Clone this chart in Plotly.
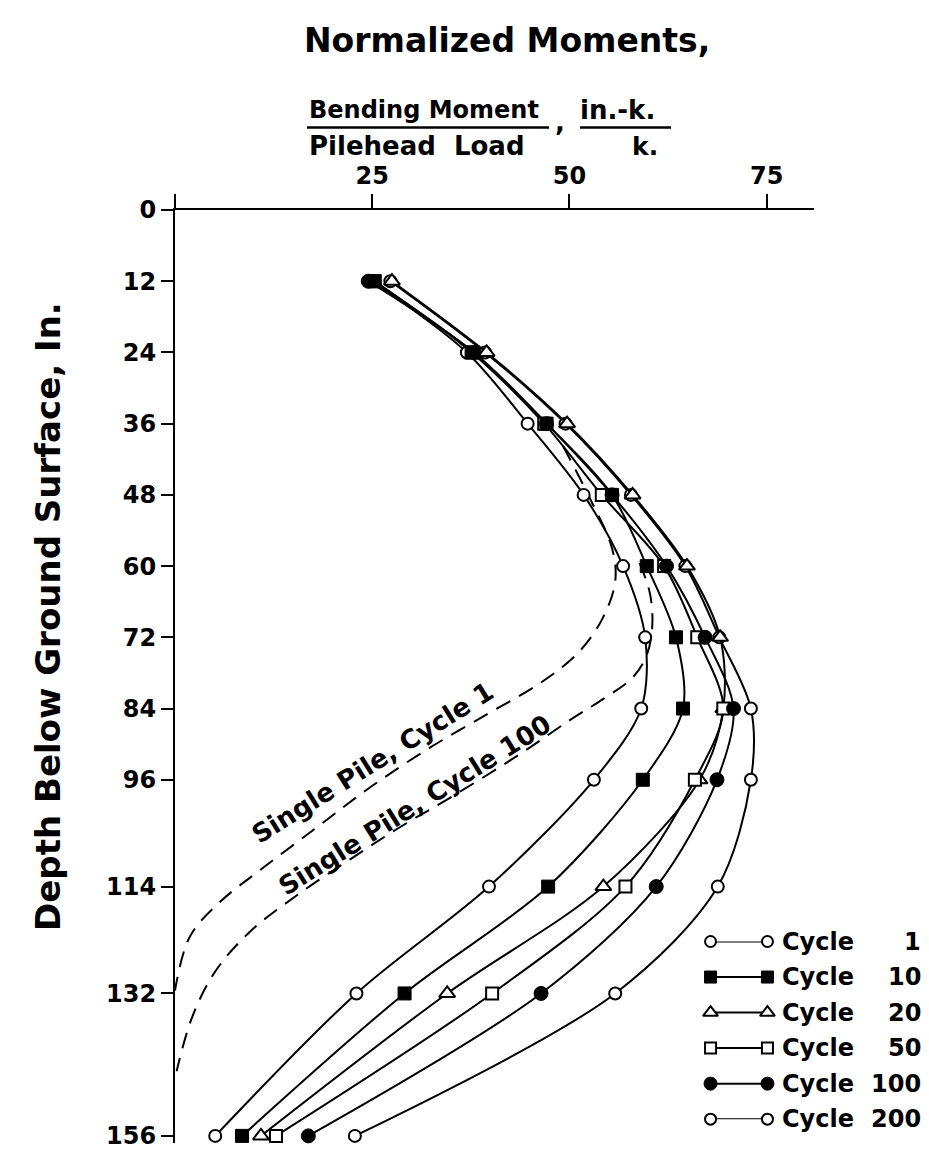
import plotly.graph_objects as go

# ---- data: normalized moment (in.-k. / k.) versus depth below ground (in.) ----
depth = [12, 24, 36, 48, 60, 72, 84, 96, 114, 132, 156]
cycle_1 = [25.0, 37.0, 44.7, 51.8, 56.8, 59.6, 59.1, 53.1, 39.8, 23.0, 5.1]
cycle_10 = [25.3, 37.8, 47.1, 55.4, 59.8, 63.5, 64.4, 59.3, 47.3, 29.1, 8.5]
cycle_20 = [27.5, 39.5, 49.7, 58.0, 64.9, 69.1, 69.5, 66.5, 54.3, 34.5, 10.9]
cycle_50 = [25.3, 37.6, 46.8, 54.1, 62.0, 66.2, 69.5, 65.9, 57.1, 40.2, 12.8]
cycle_100 = [24.5, 37.9, 47.1, 55.4, 62.3, 67.2, 70.8, 68.7, 61.0, 46.4, 16.9]
cycle_200 = [27.3, 39.3, 49.5, 57.8, 64.7, 69.0, 73.0, 73.0, 68.8, 55.8, 22.8]

# single-pile reference curves (dashed)
single_c1_depth = [39.8, 48.6, 57.0, 62.6, 68.8, 74.6, 79.7, 84.7, 90.6, 97.3, 104.0, 111.0, 116.6, 122.4, 131.5]
single_c1_moment = [49.2, 52.6, 55.4, 55.8, 54.2, 51.1, 46.3, 39.9, 32.3, 24.7, 18.0, 11.0, 5.7, 1.9, 0.0]
single_c100_depth = [59.5, 64.6, 70.0, 75.0, 78.8, 82.2, 85.9, 91.7, 99.0, 104.0, 109.4, 115.7, 121.6, 128.3, 135.9, 145.1]
single_c100_moment = [58.9, 60.2, 60.5, 59.8, 58.0, 54.5, 50.1, 43.7, 34.9, 28.5, 22.2, 15.2, 9.5, 5.1, 2.2, 0.2]

x_ticks = [0, 25, 50, 75]
x_tick_text = ["", "25", "50", "75"]
y_ticks = [0, 12, 24, 36, 48, 60, 72, 84, 96, 114, 132, 156]
y_tick_text = [str(v) for v in y_ticks]

legend_numbers = ["1", "10", "20", "50", "100", "200"]

# ---- page geometry (pixels) ----
W, H = 929, 1150
L, R, T, B = 175, 814, 210, 1150
FONT = "DejaVu Sans"


def px(xp):
    return (xp - L) / (R - L)


def py(yp):
    return (B - yp) / (B - T)


markers = {
    "1": dict(symbol="circle", size=12, color="white", line=dict(color="black", width=2)),
    "10": dict(symbol="square", size=13, color="black", line=dict(color="black", width=1)),
    "20": dict(symbol="triangle-up", size=14, color="white", line=dict(color="black", width=2)),
    "50": dict(symbol="square", size=12, color="white", line=dict(color="black", width=2)),
    "100": dict(symbol="circle", size=14, color="black", line=dict(color="black", width=1)),
    "200": dict(symbol="circle", size=12, color="white", line=dict(color="black", width=2)),
}
values = {"1": cycle_1, "10": cycle_10, "20": cycle_20, "50": cycle_50,
          "100": cycle_100, "200": cycle_200}
draw_order = ["200", "1", "20", "50", "10", "100"]

fig = go.Figure()

dash_style = dict(color="black", width=2, dash="16px,10px", shape="spline", smoothing=1.0)
fig.add_trace(go.Scatter(x=single_c1_moment, y=single_c1_depth, mode="lines",
                         line=dash_style, hoverinfo="skip", cliponaxis=False))
fig.add_trace(go.Scatter(x=single_c100_moment, y=single_c100_depth, mode="lines",
                         line=dash_style, hoverinfo="skip", cliponaxis=False))

for key in draw_order:
    fig.add_trace(go.Scatter(
        x=values[key], y=depth, mode="lines+markers",
        line=dict(color="black", width=2, shape="spline", smoothing=0.9),
        marker=markers[key], cliponaxis=False,
    ))

# legend glyphs on an auxiliary hidden axis pair
for i, key in enumerate(legend_numbers):
    m = dict(markers[key])
    m["size"] = m["size"] - 1
    fig.add_trace(go.Scatter(
        x=[0, 1], y=[i, i], mode="lines+markers", xaxis="x2", yaxis="y2",
        line=dict(color="black", width=2), marker=m, cliponaxis=False,
        hoverinfo="skip",
    ))


def bold(s):
    return dict(family=FONT, size=s, color="black", weight="bold")


annotations = []
for i, num in enumerate(legend_numbers):
    annotations.append(dict(x=px(780), y=i, xref="paper", yref="y2", text="Cycle",
                            xanchor="left", yanchor="middle", showarrow=False, font=bold(24)))
    annotations.append(dict(x=px(923), y=i, xref="paper", yref="y2", text=num,
                            xanchor="right", yanchor="middle", showarrow=False, font=bold(24)))

# header text
annotations += [
    dict(x=px(507), y=py(39), xref="paper", yref="paper", text="Normalized Moments,",
         showarrow=False, xanchor="center", yanchor="middle", font=bold(33)),
    dict(x=px(307), y=py(109), xref="paper", yref="paper", text="Bending Moment",
         showarrow=False, xanchor="left", yanchor="middle", font=bold(24)),
    dict(x=px(553), y=py(121), xref="paper", yref="paper", text=",",
         showarrow=False, xanchor="left", yanchor="middle", font=bold(26)),
    dict(x=px(578), y=py(109), xref="paper", yref="paper", text="in.-k.",
         showarrow=False, xanchor="left", yanchor="middle", font=bold(26)),
    dict(x=px(307), y=py(146), xref="paper", yref="paper", text="Pilehead\u00a0\u00a0Load",
         showarrow=False, xanchor="left", yanchor="middle", font=bold(26)),
    dict(x=px(630), y=py(146), xref="paper", yref="paper", text="k.",
         showarrow=False, xanchor="left", yanchor="middle", font=bold(25)),
    dict(x=px(48), y=py(620), xref="paper", yref="paper", text="Depth Below Ground Surface, In.",
         showarrow=False, textangle=-90, xanchor="center", yanchor="middle", font=bold(34)),
    # labels for the dashed single-pile curves
    dict(x=25.0, y=93.1, xref="x", yref="y", text="Single Pile, Cycle 1",
         showarrow=False, textangle=-32, xanchor="center", yanchor="middle", font=bold(26)),
    dict(x=30.4, y=100.2, xref="x", yref="y", text="Single Pile, Cycle 100",
         showarrow=False, textangle=-32, xanchor="center", yanchor="middle", font=bold(26)),
]

shapes = [
    dict(type="line", xref="paper", yref="paper", x0=px(307), x1=px(549), y0=py(127), y1=py(127),
         line=dict(color="black", width=2.5)),
    dict(type="line", xref="paper", yref="paper", x0=px(580), x1=px(671), y0=py(127), y1=py(127),
         line=dict(color="black", width=2.5)),
]

fig.update_layout(
    width=W, height=H,
    margin=dict(l=L, r=W - R, t=T, b=H - B, pad=0),
    paper_bgcolor="white", plot_bgcolor="white",
    showlegend=False,
    annotations=annotations,
    shapes=shapes,
    xaxis=dict(
        range=[0, 81.0], side="top", showline=True, linecolor="black", linewidth=2,
        ticks="outside", ticklen=14, tickwidth=2, tickcolor="black",
        tickvals=x_ticks, ticktext=x_tick_text, showgrid=False, zeroline=False,
        tickfont=bold(24), ticklabeloverflow="allow",
    ),
    yaxis=dict(
        range=[157.2, 0], showline=True, linecolor="black", linewidth=2,
        ticks="outside", ticklen=12, tickwidth=2, tickcolor="black",
        tickvals=y_ticks, ticktext=y_tick_text, showgrid=False, zeroline=False,
        tickfont=bold(24), ticklabeloverflow="allow",
    ),
    xaxis2=dict(domain=[px(706), px(772)], range=[-0.08, 1.08], visible=False,
                anchor="y2", fixedrange=True),
    yaxis2=dict(domain=[py(1126), py(947)], range=[5, 0], visible=False,
                anchor="x2", fixedrange=True),
)

fig.write_html("out.html")
